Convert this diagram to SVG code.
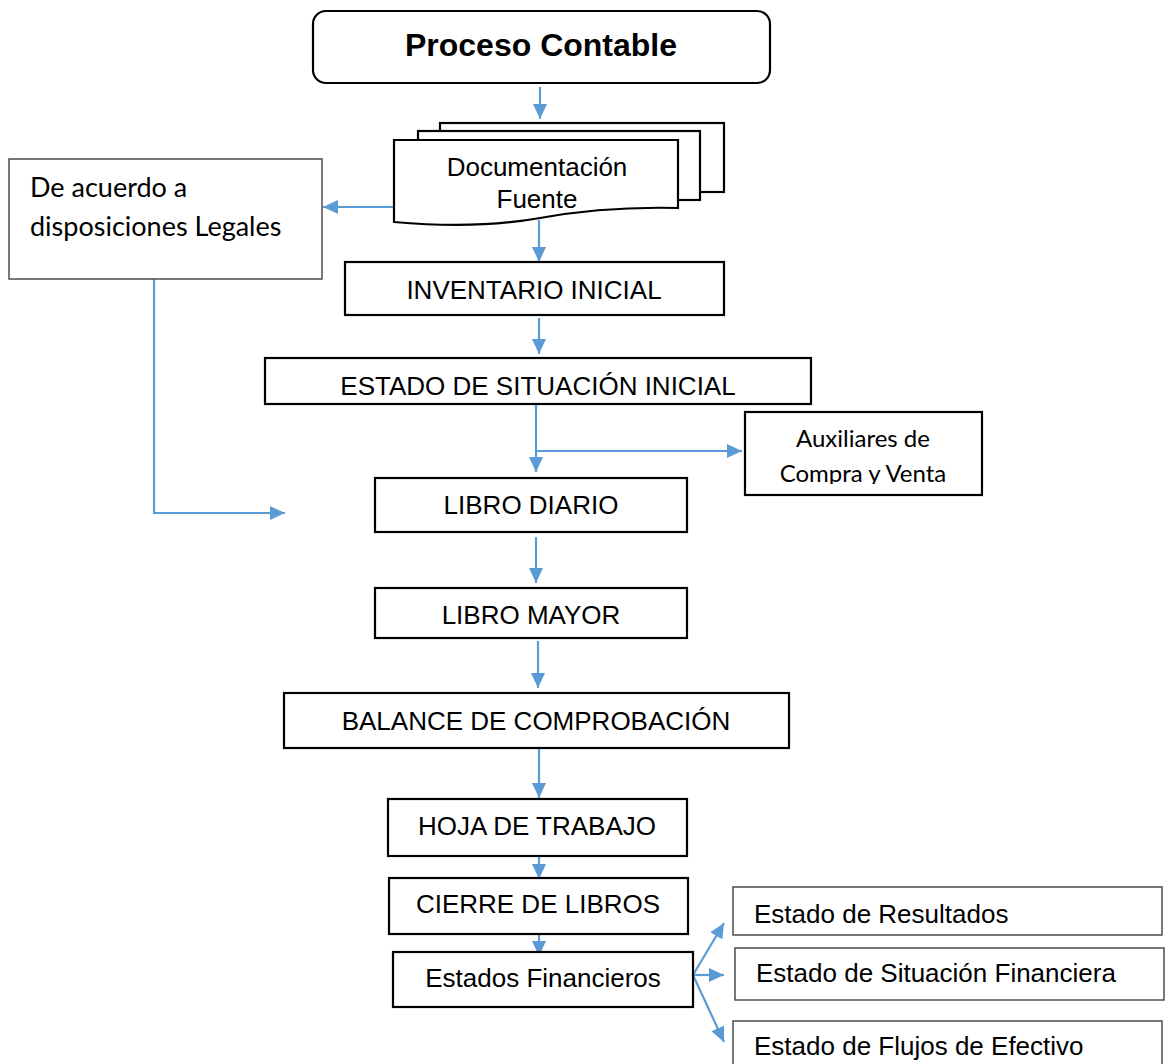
<svg xmlns="http://www.w3.org/2000/svg" width="1168" height="1064" viewBox="0 0 1168 1064">
<defs>
<style>
.box{fill:#fff;stroke:#000;stroke-width:2.2}
.thin{fill:#fff;stroke:#404040;stroke-width:1.4}
.t{font-family:"Liberation Sans",Arial,sans-serif;font-size:26px;fill:#000}
.title{font-family:"Liberation Sans",Arial,sans-serif;font-size:32px;font-weight:bold;fill:#000}
.c{font-family:Lato,"Open Sans",sans-serif;fill:#000}
.c27{font-size:27px}
.c24{font-size:24px}
.con{fill:none;stroke:#5B9BD5;stroke-width:2.2;marker-end:url(#ah)}
</style>
<marker id="ah" viewBox="0 0 15 14" refX="15" refY="7" markerWidth="15" markerHeight="14" markerUnits="userSpaceOnUse" orient="auto">
<path d="M0,0 L15,7 L0,14 z" fill="#5B9BD5"/>
</marker>
<clipPath id="auxclip"><rect x="745" y="412" width="237" height="72"/></clipPath>
</defs>
<rect width="1168" height="1064" fill="#fff"/>

<g id="connectors">
<line class="con" x1="540" y1="87" x2="540" y2="119"/>
<line class="con" x1="394" y1="207" x2="323" y2="207"/>
<line class="con" x1="539" y1="220" x2="539" y2="262"/>
<line class="con" x1="539" y1="318" x2="539" y2="354"/>
<polyline class="con" points="154,279 154,513 285,513"/>
<line class="con" x1="536" y1="405" x2="536" y2="472"/>
<line class="con" x1="536" y1="451" x2="742" y2="451"/>
<line class="con" x1="536" y1="537" x2="536" y2="583"/>
<line class="con" x1="538" y1="641" x2="538" y2="688"/>
<line class="con" x1="539" y1="749" x2="539" y2="798"/>
<line class="con" x1="539" y1="857" x2="539" y2="879"/>
<line class="con" x1="539" y1="935" x2="539" y2="956"/>
<line class="con" x1="693" y1="975" x2="724" y2="923"/>
<line class="con" x1="693" y1="975" x2="724" y2="975"/>
<line class="con" x1="693" y1="975" x2="724" y2="1042"/>
</g>

<g id="proceso-contable">
<rect class="box" x="313" y="11" width="457" height="72" rx="13"/>
<text class="title" x="541" y="56" text-anchor="middle">Proceso Contable</text>
</g>

<g id="documentacion-fuente">
<rect class="box" x="440" y="123" width="284" height="69"/>
<rect class="box" x="418" y="131" width="282" height="69"/>
<path class="box" d="M394,140 H678 V208 C640,207 590,209 540,218 C490,227 440,226 394,222 Z"/>
<text class="t" x="537" y="176" text-anchor="middle">Documentación</text>
<text class="t" x="537" y="208" text-anchor="middle">Fuente</text>
</g>

<g id="disposiciones-legales">
<rect class="thin" x="9" y="159" width="313" height="120"/>
<text class="c c27" x="30" y="197">De acuerdo a</text>
<text class="c c27" x="30" y="236">disposiciones Legales</text>
</g>

<g id="inventario-inicial">
<rect class="box" x="345" y="262" width="379" height="53"/>
<text class="t" x="534" y="299" text-anchor="middle">INVENTARIO INICIAL</text>
</g>

<g id="estado-situacion-inicial">
<rect class="box" x="265" y="358" width="546" height="46"/>
<text class="t" x="538" y="395" text-anchor="middle">ESTADO DE SITUACIÓN INICIAL</text>
</g>

<g id="auxiliares">
<rect class="box" x="745" y="412" width="237" height="83"/>
<g clip-path="url(#auxclip)">
<text class="c c24" x="863" y="447" text-anchor="middle">Auxiliares de</text>
<text class="c c24" x="863" y="482" text-anchor="middle">Compra y Venta</text>
</g>
</g>

<g id="libro-diario">
<rect class="box" x="375" y="478" width="312" height="54"/>
<text class="t" x="531" y="514" text-anchor="middle">LIBRO DIARIO</text>
</g>

<g id="libro-mayor">
<rect class="box" x="375" y="588" width="312" height="50"/>
<text class="t" x="531" y="624" text-anchor="middle">LIBRO MAYOR</text>
</g>

<g id="balance-comprobacion">
<rect class="box" x="284" y="693" width="505" height="55"/>
<text class="t" x="536" y="730" text-anchor="middle">BALANCE DE COMPROBACIÓN</text>
</g>

<g id="hoja-trabajo">
<rect class="box" x="388" y="799" width="299" height="57"/>
<text class="t" x="537" y="835" text-anchor="middle">HOJA DE TRABAJO</text>
</g>

<g id="cierre-libros">
<rect class="box" x="389" y="878" width="299" height="56"/>
<text class="t" x="538" y="913" text-anchor="middle">CIERRE DE LIBROS</text>
</g>

<g id="estados-financieros">
<rect class="box" x="393" y="952" width="300" height="55"/>
<text class="t" x="543" y="987" text-anchor="middle">Estados Financieros</text>
</g>

<g id="estado-resultados">
<rect class="thin" x="733" y="887" width="429" height="48"/>
<text class="t" x="754" y="923">Estado de Resultados</text>
</g>

<g id="estado-situacion-financiera">
<rect class="thin" x="735" y="948" width="429" height="52"/>
<text class="t" x="756" y="982">Estado de Situación Financiera</text>
</g>

<g id="estado-flujos-efectivo">
<rect class="thin" x="733" y="1021" width="429" height="60"/>
<text class="t" x="754" y="1055">Estado de Flujos de Efectivo</text>
</g>
</svg>
